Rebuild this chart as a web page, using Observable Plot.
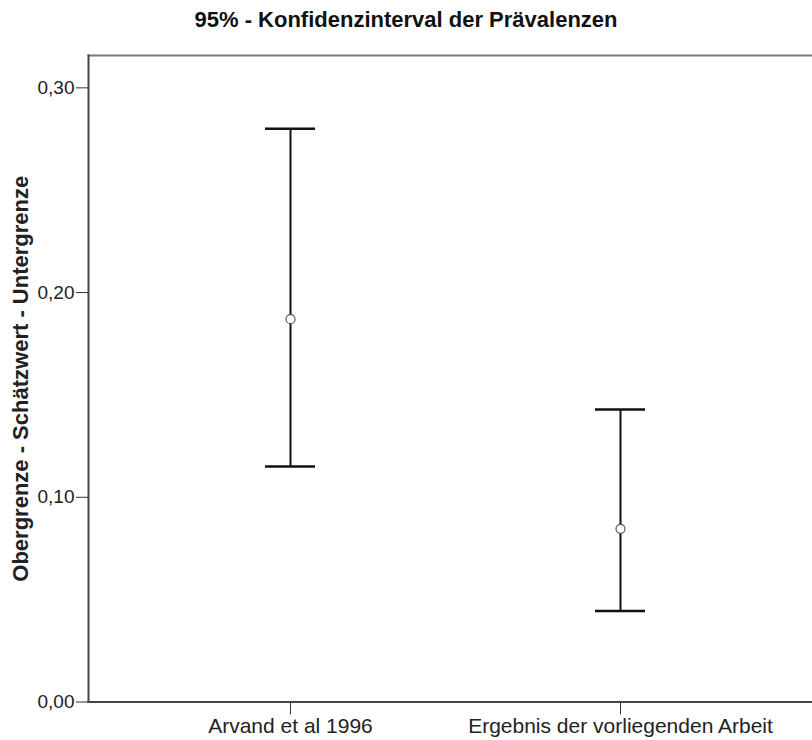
<!DOCTYPE html>
<html>
<head>
<meta charset="utf-8">
<script src="https://cdn.jsdelivr.net/npm/d3@7"></script>
<script src="https://cdn.jsdelivr.net/npm/@observablehq/plot@0.6"></script>
<style>
  html, body { margin: 0; padding: 0; background: #fff; }
  #title { height: 40px; width: 812px; box-sizing: border-box; padding-top: 9px; text-align: center;
           font: bold 22px "Liberation Sans", Arial, sans-serif; color: #111; line-height: 22px; }
</style>
</head>
<body>
<div id="title">95% - Konfidenzinterval der Prävalenzen</div>
<div id="chart"></div>
<script>
const categories = ["Arvand et al 1996", "Ergebnis der vorliegenden Arbeit"];
const estimate = [0.187, 0.0846];
const lower = [0.115, 0.0444];
const upper = [0.280, 0.1429];
const yTicks = [0, 0.1, 0.2, 0.3];
const yMax = 0.3158;

const data = categories.map((c, i) => ({cat: c, est: estimate[i], lo: lower[i], hi: upper[i]}));
const fmt = v => d3.format(".2f")(v).replace(".", ",");

const chart = Plot.plot({
  width: 812,
  height: 700,
  marginLeft: 88,
  marginRight: 0,
  marginTop: 15,
  marginBottom: 38.5,
  style: {fontFamily: "Liberation Sans, Arial, sans-serif", color: "#222", background: "#fff"},
  x: {type: "band", domain: categories, paddingInner: 0.8487, paddingOuter: 0.5197, align: 0.5153, label: null},
  y: {domain: [0, yMax], label: null},
  marks: [
    Plot.frame({anchor: "top", stroke: "#777", strokeWidth: 2}),
    Plot.axisY({ticks: yTicks, tickFormat: fmt, tickSize: 12, tickPadding: 2, fontSize: 19, stroke: "#333",
      label: "Obergrenze - Schätzwert - Untergrenze", labelAnchor: "center", labelArrow: "none", labelOffset: 76}),
    Plot.axisX({tickSize: 13, tickPadding: 3, fontSize: 21, stroke: "#333", label: null}),
    Plot.ruleX(data, {x: "cat", y1: "lo", y2: "hi", stroke: "#111", strokeWidth: 2}),
    Plot.tickY(data, {x: "cat", y: "hi", stroke: "#111", strokeWidth: 2.5}),
    Plot.tickY(data, {x: "cat", y: "lo", stroke: "#111", strokeWidth: 2.5}),
    Plot.dot(data, {x: "cat", y: "est", r: 4.5, stroke: "#555", strokeWidth: 1.2, fill: "white"}),
    Plot.frame({anchor: "left", stroke: "#444", strokeWidth: 2}),
    Plot.frame({anchor: "bottom", stroke: "#444", strokeWidth: 2})
  ]
});
document.getElementById("chart").appendChild(chart);
chart.querySelectorAll('[aria-label="y-axis label"]').forEach(el => {
  el.setAttribute("font-weight", "bold");
  el.setAttribute("font-size", "22");
});
</script>
</body>
</html>
